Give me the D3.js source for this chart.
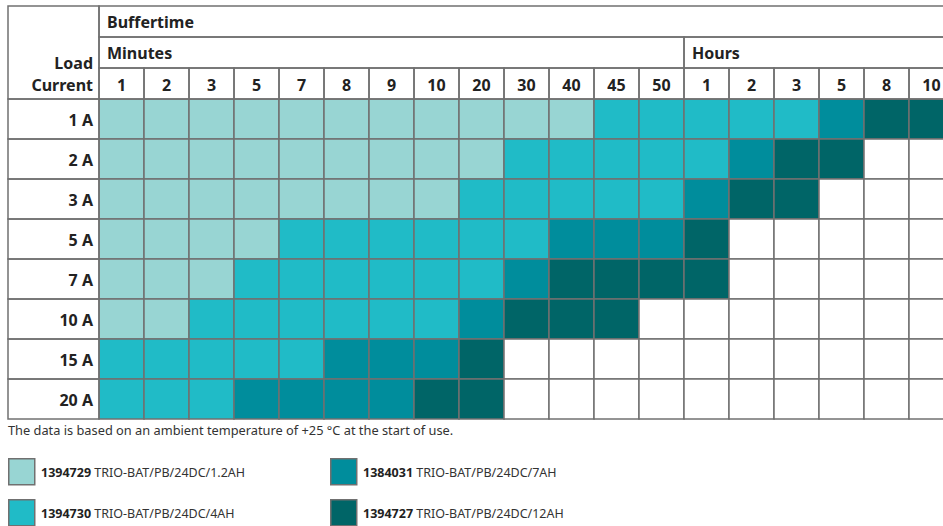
<!DOCTYPE html>
<html>
<head>
<meta charset="utf-8">
<script src="https://cdn.jsdelivr.net/npm/d3@7"></script>
<style>
  html, body { margin: 0; padding: 0; background: #fff; }
  svg { display: block; font-family: "Noto Sans", sans-serif; }
  .hdr { font-weight: 700; font-size: 16px; fill: #222; }
  .foot { font-size: 12.8px; fill: #333; }
  .leg { font-size: 12.5px; fill: #333; }
  .leg tspan.num { font-weight: 700; fill: #222; }
</style>
</head>
<body>
<svg id="chart"></svg>
<script>
// Buffertime columns
var minuteCols = ['1', '2', '3', '5', '7', '8', '9', '10', '20', '30', '40', '45', '50']
  , hourCols = ['1', '2', '3', '5', '8', '10']
  , loadCurrents = ['1 A', '2 A', '3 A', '5 A', '7 A', '10 A', '15 A', '20 A']

// battery codes : 0 = none, 1 = 1.2AH, 2 = 4AH, 3 = 7AH, 4 = 12AH
var row1A  = [1, 1, 1, 1, 1, 1, 1, 1, 1, 1, 1, 2, 2,  2, 2, 2, 3, 4, 4]
  , row2A  = [1, 1, 1, 1, 1, 1, 1, 1, 1, 2, 2, 2, 2,  2, 3, 4, 4, 0, 0]
  , row3A  = [1, 1, 1, 1, 1, 1, 1, 1, 2, 2, 2, 2, 2,  3, 4, 4, 0, 0, 0]
  , row5A  = [1, 1, 1, 1, 2, 2, 2, 2, 2, 2, 3, 3, 3,  4, 0, 0, 0, 0, 0]
  , row7A  = [1, 1, 1, 2, 2, 2, 2, 2, 2, 3, 4, 4, 4,  4, 0, 0, 0, 0, 0]
  , row10A = [1, 1, 2, 2, 2, 2, 2, 2, 3, 4, 4, 4, 0,  0, 0, 0, 0, 0, 0]
  , row15A = [2, 2, 2, 2, 2, 3, 3, 3, 4, 0, 0, 0, 0,  0, 0, 0, 0, 0, 0]
  , row20A = [2, 2, 2, 3, 3, 3, 3, 4, 4, 0, 0, 0, 0,  0, 0, 0, 0, 0, 0]
  , rows = [row1A, row2A, row3A, row5A, row7A, row10A, row15A, row20A]

var batteryIds = ['1394729', '1394730', '1384031', '1394727']
  , batteryNames = ['TRIO-BAT/PB/24DC/1.2AH', 'TRIO-BAT/PB/24DC/4AH', 'TRIO-BAT/PB/24DC/7AH', 'TRIO-BAT/PB/24DC/12AH']
  , batteryColors = ['#98d5d3', '#20bbc7', '#008d9c', '#006567']

var width = 943
  , height = 526
  , left = 8
  , labelRight = 99
  , colW = 45
  , headTop = 6
  , headRow = 31
  , gridTop = 99
  , rowH = 40
  , lineColor = '#707070'

var columns = minuteCols.map(function(c) { return {key: 'm' + c, label: c, group: 'Minutes'} })
  .concat(hourCols.map(function(c) { return {key: 'h' + c, label: c, group: 'Hours'} }))

var x = d3.scaleBand()
  .domain(columns.map(function(c) { return c.key }))
  .range([labelRight, labelRight + columns.length * colW])

var y = d3.scaleBand()
  .domain(loadCurrents)
  .range([gridTop, gridTop + loadCurrents.length * rowH])

var color = d3.scaleOrdinal().domain([0, 1, 2, 3, 4])
  .range(['#ffffff'].concat(batteryColors))

var svg = d3.select('#chart').attr('width', width).attr('height', height)

var cells = []
rows.forEach(function(r, i) {
  r.forEach(function(v, j) {
    cells.push({row: loadCurrents[i], col: columns[j].key, value: v})
  })
})

var lineStyle = function(sel) {
  sel.attr('fill', 'none').attr('stroke', lineColor).attr('stroke-width', 1.5)
}

// data cells
svg.append('g').selectAll('rect').data(cells).enter().append('rect')
  .attr('x', function(d) { return x(d.col) })
  .attr('y', function(d) { return y(d.row) })
  .attr('width', x.bandwidth())
  .attr('height', y.bandwidth())
  .attr('fill', function(d) { return color(d.value) })
  .attr('stroke', lineColor)
  .attr('stroke-width', 1.5)

// row label cells
svg.append('g').selectAll('rect').data(loadCurrents).enter().append('rect')
  .attr('x', left).attr('y', function(d) { return y(d) })
  .attr('width', labelRight - left).attr('height', y.bandwidth())
  .call(lineStyle)

svg.append('g').selectAll('text').data(loadCurrents).enter().append('text')
  .attr('class', 'hdr')
  .attr('x', labelRight - 6)
  .attr('y', function(d) { return y(d) + y.bandwidth() / 2 + 6.5 })
  .attr('text-anchor', 'end')
  .text(function(d) { return d })

// header : Load Current
svg.append('rect').attr('x', left).attr('y', headTop)
  .attr('width', labelRight - left).attr('height', gridTop - headTop)
  .call(lineStyle)
svg.append('text').attr('class', 'hdr').attr('x', labelRight - 6).attr('y', 69)
  .attr('text-anchor', 'end').text('Load')
svg.append('text').attr('class', 'hdr').attr('x', labelRight - 6).attr('y', 90.5)
  .attr('text-anchor', 'end').text('Current')

// header : Buffertime
var xEnd = x.range()[1]
svg.append('rect').attr('x', labelRight).attr('y', headTop)
  .attr('width', xEnd - labelRight).attr('height', headRow)
  .call(lineStyle)
svg.append('text').attr('class', 'hdr').attr('x', labelRight + 8).attr('y', headTop + 22)
  .text('Buffertime')

// header : Minutes / Hours
var groups = d3.groups(columns, function(c) { return c.group })
svg.append('g').selectAll('rect').data(groups).enter().append('rect')
  .attr('x', function(g) { return x(g[1][0].key) })
  .attr('y', headTop + headRow)
  .attr('width', function(g) { return g[1].length * x.bandwidth() })
  .attr('height', headRow)
  .call(lineStyle)
svg.append('g').selectAll('text').data(groups).enter().append('text')
  .attr('class', 'hdr')
  .attr('x', function(g) { return x(g[1][0].key) + 8 })
  .attr('y', headTop + headRow + 22)
  .text(function(g) { return g[0] })

// header : column ticks
svg.append('g').selectAll('rect').data(columns).enter().append('rect')
  .attr('x', function(c) { return x(c.key) })
  .attr('y', headTop + 2 * headRow)
  .attr('width', x.bandwidth())
  .attr('height', gridTop - headTop - 2 * headRow)
  .call(lineStyle)
svg.append('g').selectAll('text').data(columns).enter().append('text')
  .attr('class', 'hdr')
  .attr('x', function(c) { return x(c.key) + x.bandwidth() / 2 })
  .attr('y', 90.5)
  .attr('text-anchor', 'middle')
  .text(function(c) { return c.label })

// footnote
svg.append('text').attr('class', 'foot').attr('x', left).attr('y', 435)
  .text('The data is based on an ambient temperature of +25 °C at the start of use.')

// legend, two columns
var legend = svg.append('g').selectAll('g').data(batteryIds).enter().append('g')
  .attr('transform', function(d, i) {
    return 'translate(' + (i < 2 ? 8 : 330) + ',' + (i % 2 === 0 ? 458 : 499) + ')'
  })
legend.append('rect')
  .attr('x', 0.75).attr('y', 0.75).attr('width', 26).attr('height', 26)
  .attr('fill', function(d, i) { return batteryColors[i] })
  .attr('stroke', lineColor).attr('stroke-width', 1.5)
var lt = legend.append('text').attr('class', 'leg').attr('x', 33).attr('y', 18.5)
lt.append('tspan').attr('class', 'num').text(function(d) { return d })
lt.append('tspan').text(function(d, i) { return ' ' + batteryNames[i] })
</script>
</body>
</html>
